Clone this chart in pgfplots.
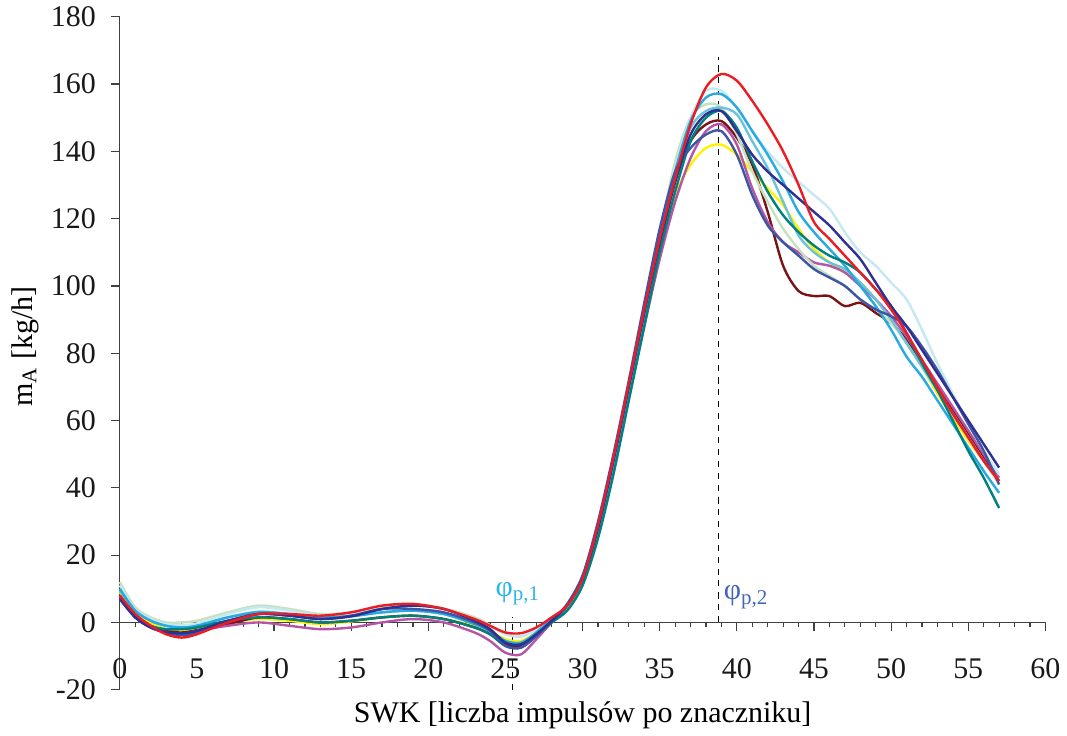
\documentclass[border=0pt]{standalone}
\usepackage{fontspec}
\setmainfont{Liberation Serif}
\usepackage{pgfplots}
\usepackage{pgfplotstable}
\pgfplotsset{compat=1.18}
\definecolor{cRed}{HTML}{ED1C24}
\definecolor{cPale}{HTML}{C5E8F1}
\definecolor{cSky}{HTML}{27AAE1}
\definecolor{cMed}{HTML}{6BC3DB}
\definecolor{cLG}{HTML}{C7E1C0}
\definecolor{cTeal}{HTML}{00807F}
\definecolor{cNavy}{HTML}{2E3192}
\definecolor{cDRed}{HTML}{7A1315}
\definecolor{cMag}{HTML}{B455A5}
\definecolor{cBlue}{HTML}{3E55A5}
\definecolor{cYel}{HTML}{FFF200}
\definecolor{cPhiA}{HTML}{2BB5EA}
\definecolor{cPhiB}{HTML}{4466B8}

% mass flow per run, x = SWK pulses
\pgfplotstableread{
x  red  pale sky  med  lg   teal navy dred mag  blue yel
0  8    11   10   9.5  12   8    7    8    8    7    9
1  2.5  4    3.5  3.5  4.5  2    1.5  2    1.5  1.5  3
2  -1   1    0.5  0.5  1.5  -1   -1.5 -1   -1.5 -1.5 0
3  -3.5 -0.5 -1   -1   0    -2   -3   -2.5 -3   -3   -2
4  -4.5 -0.8 -1.5 -1.5 0    -2   -3.2 -3   -3.5 -3.8 -2.5
5  -3.5 -0.3 -1   -1   0.5  -1.5 -2.5 -2.3 -2.5 -3   -2
7  0    2.5  1.5  1.5  3    0.5  0.5  -0.5 -1   0    0
9  2.5  4.5  3    3.2  5    1.5  2.5  1.5  0    2.5  1
11 2.5  3.5  2.5  2.5  4    1    2    1    -1   2    0.5
13 2    2    1.5  1.5  2.5  0    1    0    -2   1    -0.5
15 3    2.5  1.8  2    3    0.5  1.8  0.5  -1.5 2    0.3
17 5    4    3    3    4.5  1.5  4    1.5  0    4    1.5
19 5.5  5    3.5  3.5  5.4  2    5    2    1    4    2
21 4    4    2.5  2.5  4.2  1    4    1    0    3    1
23 1    1    -0.5 -0.5 1.5  -1.5 0.5  -1.5 -3   0    -1
24 -1   -1.2 -2.5 -2.5 -0.8 -3.5 -2   -3.5 -5.5 -2.5 -2.5
25 -3   -3.5 -5.5 -5.5 -3.5 -7   -6   -6.5 -9   -7   -5
26 -3.2 -4   -6   -6.2 -4.2 -7.5 -6.5 -7   -9.5 -7.5 -5.5
27 -1.5 -2   -3   -3   -2   -4   -3.5 -4   -5   -4   -3
28 1.5  1.5  1    1    1.5  0    0.5  0.5  0    0.5  1
29 5    5    5    4.5  5    3.5  5    4.5  4    5.5  4.5
30 13   13   13   12   13   11   13   12   12   14   12.5
31 29   28   28   27   28.5 25   28   27   27   30   28
32 49   48   48   47   48.5 44   48   47   46   50   47
33 71   70   70   69   71   66   70   69   67   72   69
34 93   92   92   91   93   88   92   91   88   95   91
35 114  114  114  113  115  110  113  112  108  117  111
36 132  135  134  133  137  128  131  131  125  134  127
37 148  150  149  147  150  143  145  143  138  141  136
38 159  158  156  152  154  150  151  148  146  145  141
39 163  158  157  153  153  152  152  149  148  146  142
40 161  153  153  151  145  147  146  144  142  139  139
41 155  146  146  143  134  137  139  136  129  127  134
42 148  140  139  135  125  128  134  122  119  118  129
43 140  135  131  125  117  121  130  106  113  113  124
44 130  131  122  115  111  116  126  98.5 110  109  117
45 119  127  116  110  106  112  122  97   107  105  111
46 114  123  111  107  103  109  118  97   106  102.5 107
47 109  116  106  105  100  107  113  94   104  100  104
48 104  110  100  101  96   104  108  95   100  96   101
49 99   106  94   96   93   99   101  92   96   93   96
50 93   101  87   90   89   94   94   89   91   91   90
51 86   96   79   83   83   86   88   84   85   88   83
52 78   87   73   76   76   77   81   77   78   82   76
53 70   77   66   69   69   69   74   70   71   75   68
54 62   68   59   62   62   60   67   63   64   67   61
55 55   59   52   55   55   51   60   56   57   59   54
56 48   51   45   48   48   43   53   49   50   51   48
57 42   44   38.5 42   41   34   46   42   43   41   42
}\runs

\begin{document}
\begin{tikzpicture}
\begin{axis}[
  scale only axis, width=463.5pt, height=337pt,
  xmin=0, xmax=60, ymin=-20, ymax=180,
  axis x line=middle, axis y line=left,
  hide obscured x ticks=false,
  axis line style={-, black!75, line width=0.6pt},
  tick style={black!75, line width=0.6pt},
  tick align=outside,
  major tick length=4.5pt, minor tick length=2.5pt,
  xtick={0,5,...,60}, minor x tick num=4,
  xticklabels={0,5,10,15,20,25,30,35,40,45,50,55,60},
  ytick={-20,0,20,...,180},
  yticklabels={-20,0,20,40,60,80,100,120,140,160,180},
  ticklabel style={font=\fontsize{15}{18}\selectfont, text=black!90},
  xticklabel style={yshift=-10pt},
  yticklabel style={xshift=-4pt},
  xlabel={SWK [liczba impulsów po znaczniku]},
  ylabel={m\textsubscript{A} [kg/h]},
  label style={font=\fontsize{15}{18}\selectfont},
  xlabel style={at={(axis description cs:0.5,-0.038)}, anchor=center},
  ylabel style={at={(axis description cs:-0.1025,0.51)}, anchor=center, rotate=0},
  every axis plot/.append style={smooth, line width=1.2pt},
  clip=false,
]
\addplot[black, dashed, thin] coordinates {(25.45,-20) (25.45,1.5)};
\addplot[black, dashed, thin] coordinates {(38.8,0) (38.8,168)};
\addplot[cYel]  table[x=x,y=yel]  {\runs};
\addplot[cDRed] table[x=x,y=dred] {\runs};
\addplot[cMag]  table[x=x,y=mag]  {\runs};
\addplot[cLG]   table[x=x,y=lg]   {\runs};
\addplot[cPale] table[x=x,y=pale] {\runs};
\addplot[cMed]  table[x=x,y=med]  {\runs};
\addplot[cSky]  table[x=x,y=sky]  {\runs};
\addplot[cTeal] table[x=x,y=teal] {\runs};
\addplot[cBlue] table[x=x,y=blue] {\runs};
\addplot[cNavy] table[x=x,y=navy] {\runs};
\addplot[cRed]  table[x=x,y=red]  {\runs};
\node[text=cPhiA, font=\fontsize{15}{18}\selectfont] at (axis cs:25.8,8.5) {φ\textsubscript{p,1}};
\node[text=cPhiB, font=\fontsize{15}{18}\selectfont] at (axis cs:40.6,7.5) {φ\textsubscript{p,2}};
\end{axis}
\path ([xshift=-60pt]current axis.south west);
\end{tikzpicture}
\end{document}
